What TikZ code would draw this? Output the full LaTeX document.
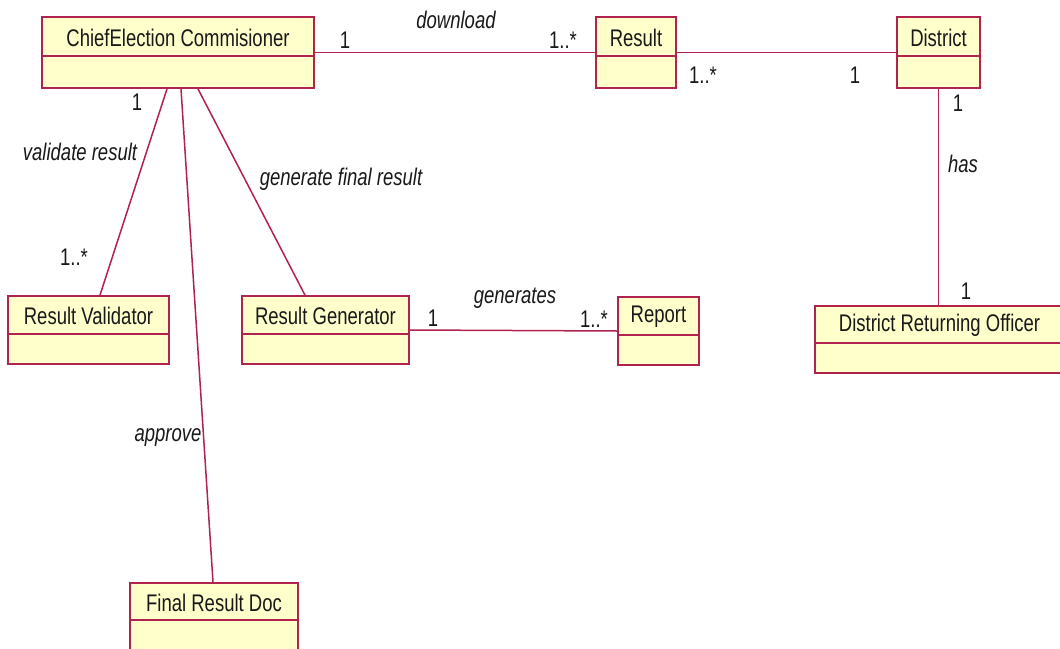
\documentclass[tikz,border=0pt]{standalone}
\usepackage{fontspec}
\setmainfont{Liberation Sans}
\usepackage{graphicx}
\definecolor{umlred}{RGB}{178,34,78}
\definecolor{umlfill}{RGB}{255,255,204}
\definecolor{ink}{RGB}{25,25,25}
% glyphs are drawn a little taller than wide, as in the class boxes
\newcommand\tallt[1]{\scalebox{1}[1.3]{#1}}
\tikzset{
  cls/.style={draw=umlred, fill=umlfill, line width=1.8pt, rectangle, inner sep=0pt},
  clsline/.style={draw=umlred, line width=1.6pt},
  title/.style={font=\fontsize{18.5}{20}\selectfont, text=ink, inner sep=0pt},
  mult/.style={font=\fontsize{18.5}{20}\selectfont, text=ink, inner sep=0pt},
  role/.style={font=\fontsize{18.5}{20}\selectfont\itshape, text=ink, inner sep=0pt},
  assoc/.style={draw=umlred, line width=1.5pt},
}
% #1 name, #2 left, #3 top, #4 right, #5 divider, #6 bottom, #7 class name
\newcommand\classbox[7]{%
  \node[cls, minimum width={#4-#2}, minimum height={#6-#3}] (#1) at ({(#2+#4)/2},{(#3+#6)/2}) {};
  \draw[clsline] (#1.west |- 0,#5) -- (#1.east |- 0,#5);
  \node[title] (#1-t) at ({(#2+#4)/2},{(#3+#5)/2+1}) {\tallt{#7}};
}
\begin{document}
\begin{tikzpicture}[x=1pt, y=-1pt]
  \useasboundingbox (0,0) rectangle (1060,648);
  \fill[white] (0,0) rectangle (1060,648);

  % classes
  \classbox{cec}{42}{17}{314}{56}{88}{ChiefElection Commisioner}
  \classbox{res}{596}{17}{676}{56}{88}{Result}
  \classbox{dis}{897}{17}{980}{56}{88}{District}
  \classbox{val}{8}{296}{169}{334}{364}{Result Validator}
  \classbox{gen}{242}{296}{409}{334}{364}{Result Generator}
  \classbox{rep}{618}{297}{699}{335}{365}{Report}
  \classbox{dro}{815}{306}{1064}{343}{373}{District Returning Officer}
  \classbox{frd}{130}{583}{298}{620}{655}{Final Result Doc}

  % associations
  \draw[assoc] (cec.east) -- (res.west);
  \draw[assoc] (res.east) -- (dis.west);
  \draw[assoc] (dis.south) -- (dis.south |- dro.north);
  \draw[assoc] ([xshift=-11pt]cec.south) -- ([xshift=11.5pt]val.north);
  \draw[assoc] ([xshift=3pt]cec.south) -- ([xshift=-1pt]frd.north);
  \draw[assoc] ([xshift=20pt]cec.south) -- ([xshift=-20.5pt]gen.north);
  \draw[assoc] (gen.east) -- (rep.west);

  % association names
  \node[role] (l-download) at (456,20) {\tallt{download}};
  \node[role] (l-has) at (963,164) {\tallt{has}};
  \node[role] (l-validate) at (80,152) {\tallt{validate result}};
  \node[role] (l-genfinal) at (341,179) {\tallt{generate final result}};
  \node[role] (l-approve) at (168,438) {\tallt{approve}};
  \node[role] (l-generates) at (515,298) {\tallt{generates}};

  % multiplicities
  \node[mult] (m1) at (345,40) {\tallt{1}};
  \node[mult] (m2) at (563,40) {\tallt{1..*}};
  \node[mult] (m3) at (703,75) {\tallt{1..*}};
  \node[mult] (m4) at (855,75) {\tallt{1}};
  \node[mult] (m5) at (958,103) {\tallt{1}};
  \node[mult] (m6) at (966,291) {\tallt{1}};
  \node[mult] (m7) at (137,102) {\tallt{1}};
  \node[mult] (m8) at (74,257) {\tallt{1..*}};
  \node[mult] (m9) at (433,318) {\tallt{1}};
  \node[mult] (m10) at (594,319) {\tallt{1..*}};
\end{tikzpicture}
\end{document}
